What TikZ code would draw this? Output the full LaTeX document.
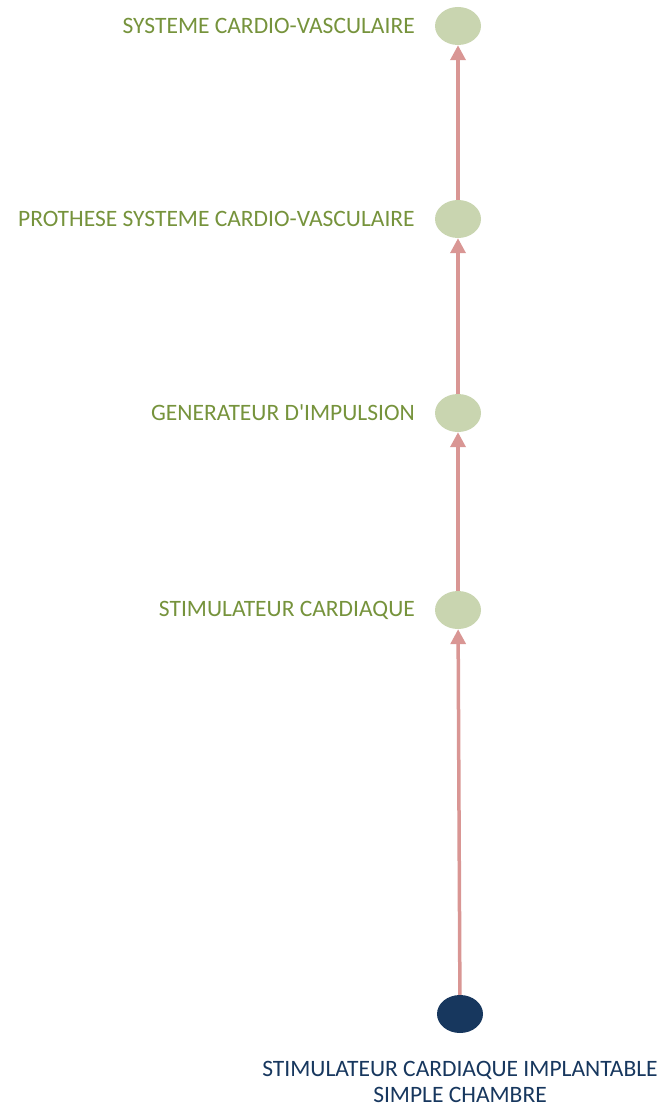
\documentclass[tikz,border=0pt]{standalone}
\usepackage{fontspec}
\setmainfont{Carlito}
\usetikzlibrary{arrows.meta,shapes.geometric}
\definecolor{gfill}{HTML}{C9D5B0}
\definecolor{gtext}{HTML}{76933C}
\definecolor{dblue}{HTML}{17375E}
\definecolor{arr}{HTML}{D99694}
\tikzset{
  cnode/.style={ellipse,fill=gfill,minimum width=46pt,minimum height=38pt,inner sep=0pt},
  rnode/.style={ellipse,fill=dblue,minimum width=46pt,minimum height=38pt,inner sep=0pt},
  glabel/.style={anchor=east,text=gtext,font=\fontsize{23.5}{26}\selectfont,inner sep=0pt},
  blabel/.style={text=dblue,font=\fontsize{23.5}{26}\selectfont,align=center,inner sep=0pt},
  conn/.style={draw=arr,line width=3.5pt,-{Triangle[length=15pt,width=15pt]}}
}
\begin{document}
\begin{tikzpicture}[x=1pt,y=-1pt]
\useasboundingbox (0,0) rectangle (661,1107);
\node[cnode] (n1) at (458,26) {};
\node[cnode] (n2) at (458,219) {};
\node[cnode] (n3) at (458,413) {};
\node[cnode] (n4) at (458,610) {};
\node[rnode] (n5) at (460,1014) {};
\node[glabel] (l1) at (415,26) {SYSTEME CARDIO-VASCULAIRE};
\node[glabel] (l2) at (415,219) {PROTHESE SYSTEME CARDIO-VASCULAIRE};
\node[glabel] (l3) at (415,413) {GENERATEUR D\textquotesingle IMPULSION};
\node[glabel] (l4) at (415,610) {STIMULATEUR CARDIAQUE};
\node[blabel] (l5) at (460,1082) {STIMULATEUR CARDIAQUE IMPLANTABLE\\SIMPLE CHAMBRE};
\draw[conn] (n5) -- (n4);
\draw[conn] (n4) -- (n3);
\draw[conn] (n3) -- (n2);
\draw[conn] (n2) -- (n1);
\end{tikzpicture}
\end{document}
